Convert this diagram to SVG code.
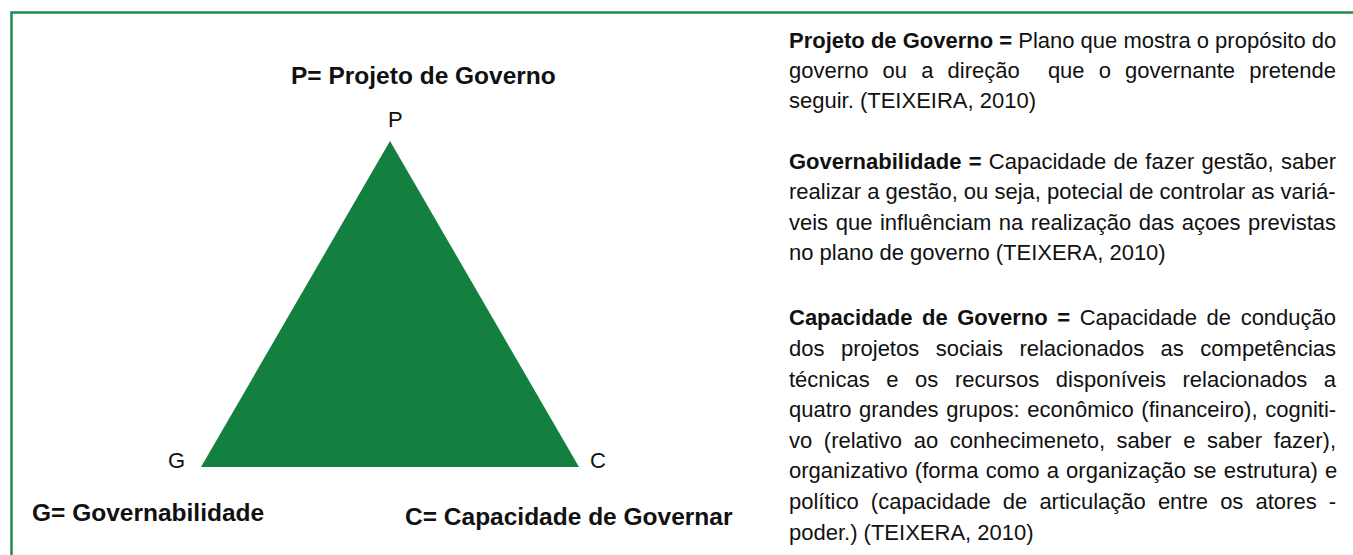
<svg xmlns="http://www.w3.org/2000/svg" width="1353" height="555" viewBox="0 0 1353 555">
<style>
text{font-family:"Liberation Sans",Arial,sans-serif;fill:#111}
.lab{font-size:24.5px;font-weight:bold}
.v{font-size:22px}
.p{font-size:22px}
.b{font-weight:bold}
</style>
<rect width="1353" height="555" fill="#fff"/>
<path d="M11.5,555 V12.5 H1353" fill="none" stroke="#1e8b4c" stroke-width="2.5"/>
<g id="triangle">
<polygon points="390,141 201,467 579,467" fill="#148040"/>
</g>
<g id="vertex-P"><text class="v" x="388" y="127">P</text></g>
<g id="vertex-G"><text class="v" x="168" y="468">G</text></g>
<g id="vertex-C"><text class="v" x="590" y="468">C</text></g>
<g id="label-P"><text class="lab" x="291" y="84">P= Projeto de Governo</text></g>
<g id="label-G"><text class="lab" x="32" y="521">G= Governabilidade</text></g>
<g id="label-C"><text class="lab" x="405" y="525">C= Capacidade de Governar</text></g>
<g id="connectors"></g>
<g id="def-projeto" class="p">
<text class="p" x="789" y="48"><tspan class="b">Projeto de Governo =</tspan> Plano que mostra o propósito do</text>
<text class="p" x="789" y="78" word-spacing="7.99">governo ou a direção&#160; que o governante pretende</text>
<text class="p" x="789" y="108">seguir. (TEIXEIRA, 2010)</text>
</g>
<g id="def-governabilidade">
<text class="p" x="789" y="169" word-spacing="1.18"><tspan class="b">Governabilidade =</tspan> Capacidade de fazer gestão, saber</text>
<text class="p" x="789" y="199">realizar a gestão, ou seja, potecial de controlar as variá-</text>
<text class="p" x="789" y="230" word-spacing="1.46">veis que influênciam na realização das açoes previstas</text>
<text class="p" x="789" y="260">no plano de governo (TEIXERA, 2010)</text>
</g>
<g id="def-capacidade">
<text class="p" x="789" y="325" word-spacing="3.43"><tspan class="b">Capacidade de Governo =</tspan> Capacidade de condução</text>
<text class="p" x="789" y="356" word-spacing="10.36">dos projetos sociais relacionados as competências</text>
<text class="p" x="789" y="387" word-spacing="10.47">técnicas e os recursos disponíveis relacionados a</text>
<text class="p" x="789" y="417" word-spacing="1.56">quatro grandes grupos: econômico (financeiro), cogniti-</text>
<text class="p" x="789" y="448" word-spacing="5.47">vo (relativo ao conhecimeneto, saber e saber fazer),</text>
<text class="p" x="789" y="478" word-spacing="1.11">organizativo (forma como a organização se estrutura) e</text>
<text class="p" x="789" y="509" word-spacing="6.0">político (capacidade de articulação entre os atores -</text>
<text class="p" x="789" y="540">poder.) (TEIXERA, 2010)</text>
</g>
</svg>
